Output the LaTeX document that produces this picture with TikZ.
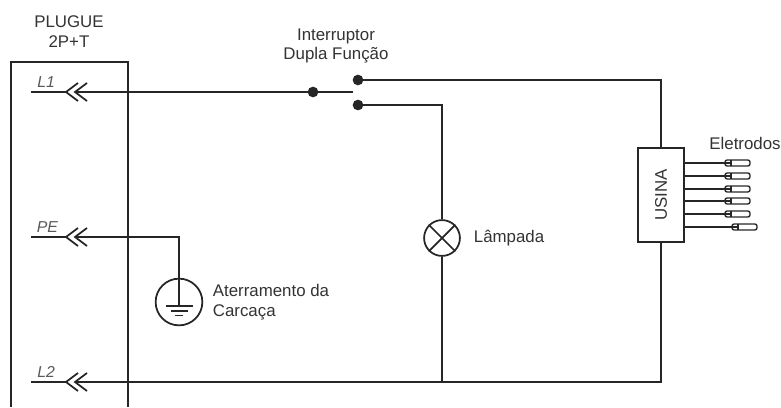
\documentclass[tikz,border=0pt]{standalone}
\usepackage{fontspec}
\setmainfont{Liberation Sans}
\begin{document}
\begin{tikzpicture}[x = 0.02cm, y = -0.02cm, line width = 1pt, color = black!85,
		main/.style = {draw, circle, fill, inner sep = 0, minimum size = 5},
		lamp/.style = {draw, circle, inner sep = 0, minimum size = 20.4},
		caption/.style = {font = \fontsize{9.6}{11.3}\selectfont, text = black!80, align = center},
		pinname/.style = {font = \fontsize{9}{11}\selectfont\itshape, text = black!65},
		electrode/.style = {draw, line width = 0.8pt, rounded corners = 1.2, inner sep = 0, minimum width = 14.2, minimum height = 3.4},
		collar/.style = {draw, line width = 0.8pt, inner sep = 0, minimum width = 0, minimum height = 3.4},
		chevron/.pic = {\draw (12,-9) -- (0,0) -- (12,9);}]
			\useasboundingbox (0,0) rectangle (781,407);
			% plug
			\coordinate (bl) at (11,407);
			\coordinate (tl) at (11,62);
			\coordinate (tr) at (128,62);
			\coordinate (br) at (128,407);
			\draw (bl) -- (tl) -- (tr) -- (br);
			\node[caption] (plug) at (69,31.5) {PLUGUE\\2P+T};
			\coordinate (s1) at (31,92);
			\coordinate (p1) at (66,92);
			\coordinate (q1) at (75,92);
			\coordinate (s2) at (31,237);
			\coordinate (p2) at (66,237);
			\coordinate (q2) at (75,237);
			\coordinate (s3) at (31,382);
			\coordinate (p3) at (66,382);
			\coordinate (q3) at (75,382);
			\draw (s1) -- (p1) node[pinname, pos = 0.43, above, yshift = -1] (l1) {L1};
			\draw (s2) -- (p2) node[pinname, pos = 0.47, above, yshift = -1] (pe) {PE};
			\draw (s3) -- (p3) node[pinname, pos = 0.43, above, yshift = -1] (l2) {L2};
			\pic at (p1) {chevron};
			\pic at (q1) {chevron};
			\pic at (p2) {chevron};
			\pic at (q2) {chevron};
			\pic at (p3) {chevron};
			\pic at (q3) {chevron};
			% switch
			\node[main] (sw) at (313,92) {};
			\node[main] (up) at (358,80) {};
			\node[main] (dn) at (358,105) {};
			\coordinate (sw2) at (353,92);
			\node[caption] (swname) at (336,46) {Interruptor\\Dupla Função};
			\draw (q1) -- (sw) -- (sw2);
			% lamp
			\node[lamp] (lp) at (442,238) {};
			\draw (lp.north west) -- (lp.south east);
			\draw (lp.north east) -- (lp.south west);
			\node[caption, anchor = west, inner sep = 0] (lpname) at (473,238) {Lâmpada};
			\draw (dn) -| (lp);
			% usina
			\node[draw, minimum width = 26.6, minimum height = 53.3, inner sep = 0] (us) at (661,195) {};
			\node[caption, rotate = 90] (usname) at (us) {USINA};
			\draw (up) -| (us);
			\coordinate (j1) at (442,382);
			\coordinate (j2) at (661,382);
			\draw (q3) -- (j1) -- (j2) -- (us);
			\draw (lp) -- (j1);
			% electrodes
			\node[caption] (elname) at (745,143) {Eletrodos};
			\coordinate (o1) at (684,163);
			\coordinate (o2) at (684,176);
			\coordinate (o3) at (684,189);
			\coordinate (o4) at (684,201);
			\coordinate (o5) at (684,214);
			\coordinate (o6) at (684,227);
			\node[electrode] (e1) at (737.5,163) {};
			\node[electrode] (e2) at (737.5,176) {};
			\node[electrode] (e3) at (737.5,189) {};
			\node[electrode] (e4) at (737.5,201) {};
			\node[electrode] (e5) at (737.5,214) {};
			\node[electrode] (e6) at (744.5,227) {};
			\node[collar] (c1) at (731,163) {};
			\node[collar] (c2) at (731,176) {};
			\node[collar] (c3) at (731,189) {};
			\node[collar] (c4) at (731,201) {};
			\node[collar] (c5) at (731,214) {};
			\node[collar] (c6) at (738,227) {};
			\draw (o1) -- (c1);
			\draw (o2) -- (c2);
			\draw (o3) -- (c3);
			\draw (o4) -- (c4);
			\draw (o5) -- (c5);
			\draw (o6) -- (c6);
			% ground
			\node[draw, circle, inner sep = 0, minimum size = 26.6] (gnd) at (179,302) {};
			\coordinate (g1) at (179,237);
			\coordinate (g2) at (179,306);
			\draw (q2) -- (g1) -- (g2);
			\coordinate (a1) at (166,306);
			\coordinate (a2) at (193,306);
			\coordinate (b1) at (171,311);
			\coordinate (b2) at (188,311);
			\coordinate (c1x) at (175,315.5);
			\coordinate (c2x) at (183,315.5);
			\draw (a1) -- (a2);
			\draw (b1) -- (b2);
			\draw (c1x) -- (c2x);
			\node[caption, align = left, anchor = west, inner sep = 0] (gndname) at (212,302) {Aterramento da\\Carcaça};
		\end{tikzpicture}
\end{document}
